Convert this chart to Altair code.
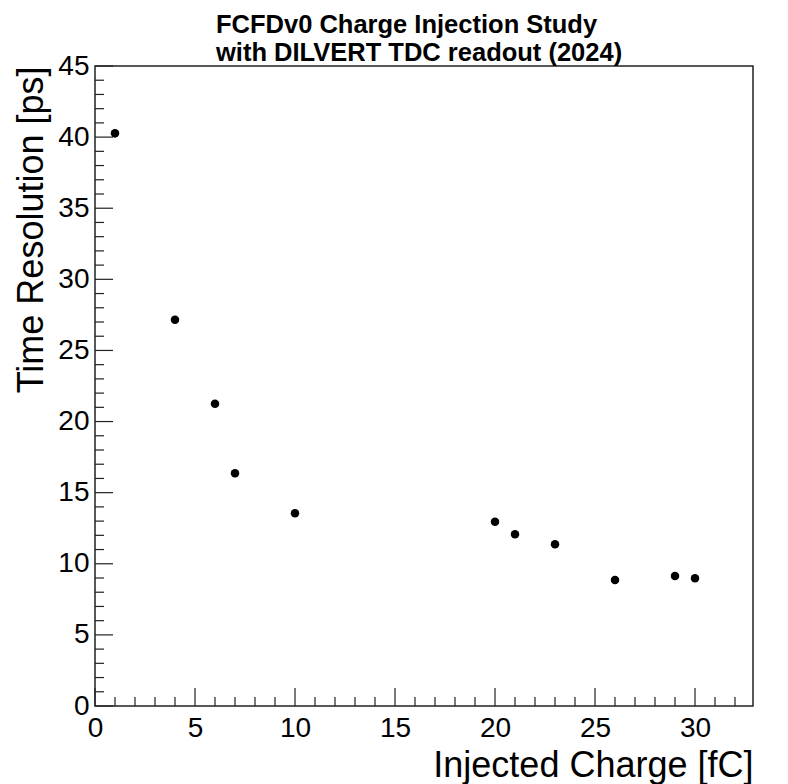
import altair as alt
import pandas as pd

# Data
charge = [1, 4, 6, 7, 10, 20, 21, 23, 26, 29, 30]
resolution = [40.27, 27.15, 21.26, 16.36, 13.55, 12.96, 12.07, 11.37, 8.86, 9.14, 8.98]
res_err = [0.3, 0, 0, 0, 0, 0, 0, 0, 0, 0, 0]

x_major = [0, 5, 10, 15, 20, 25, 30]
x_minor = [v for v in range(0, 33) if v % 5 != 0]
y_major = [0, 5, 10, 15, 20, 25, 30, 35, 40, 45]
y_minor = [v for v in range(0, 46) if v % 5 != 0]

W, H = 658, 640
FONT = "Liberation Sans"

df = pd.DataFrame({"q": charge, "r": resolution, "e": res_err})
df["lo"] = df["r"] - df["e"]
df["hi"] = df["r"] + df["e"]

xs = alt.Scale(domain=[0, 32.9], nice=False, zero=False)
ys = alt.Scale(domain=[0, 45], nice=False, zero=False)

x_axis = alt.Axis(
    values=x_major, ticks=False, domain=False, grid=False,
    labelFontSize=28, labelFont=FONT, labelColor="black", labelPadding=8,
    labelFlush=False, labelOverlap=False,
    title="Injected Charge [fC]", titleFont=FONT, titleFontSize=36,
    titleFontWeight="normal", titleColor="black",
    titleAnchor="end", titleAlign="right", titleBaseline="alphabetic",
    titleX=W, titleY=70,
)
y_axis = alt.Axis(
    values=y_major, ticks=False, domain=False, grid=False,
    labelFontSize=28, labelFont=FONT, labelColor="black", labelPadding=6,
    labelFlush=False, labelOverlap=False,
    title="Time Resolution [ps]", titleFont=FONT, titleFontSize=36,
    titleFontWeight="normal", titleColor="black",
    titleAngle=270, titleAlign="right", titleBaseline="alphabetic",
    titleX=-53, titleY=0,
)

points = alt.Chart(df).mark_circle(size=72, color="black", opacity=1).encode(
    x=alt.X("q:Q", scale=xs, axis=x_axis),
    y=alt.Y("r:Q", scale=ys, axis=y_axis),
)
errs = alt.Chart(df).mark_rule(color="black", strokeWidth=1.5).encode(
    x=alt.X("q:Q", scale=xs),
    y=alt.Y("lo:Q", scale=ys),
    y2="hi:Q",
)

def xticks(vals, length):
    return alt.Chart(pd.DataFrame({"v": vals})).mark_rule(color="#222", strokeWidth=1.2).encode(
        x=alt.X("v:Q", scale=xs),
        y=alt.value(H),
        y2=alt.value(H - length),
    )

def yticks(vals, length):
    return alt.Chart(pd.DataFrame({"v": vals})).mark_rule(color="#222", strokeWidth=1.2).encode(
        y=alt.Y("v:Q", scale=ys),
        x=alt.value(0),
        x2=alt.value(length),
    )

chart = alt.layer(
    xticks(x_major, 18), xticks(x_minor, 9),
    yticks(y_major, 18), yticks(y_minor, 9),
    errs, points,
).properties(
    width=W, height=H,
    title=alt.TitleParams(
        text=["FCFDv0 Charge Injection Study", "with DILVERT TDC readout (2024)"],
        font=FONT, fontSize=25.5, fontWeight="bold", color="black",
        anchor="start", align="left", frame="group", dx=121, dy=20,
        offset=6, lineHeight=28,
    ),
    autosize=alt.AutoSizeParams(type="none"),
    padding={"left": 87, "top": 58, "right": 27, "bottom": 78},
    background="white",
).configure_view(
    stroke="#222", strokeWidth=1.5,
)

chart.save("out.html", embed_options={"renderer": "svg", "actions": False})
